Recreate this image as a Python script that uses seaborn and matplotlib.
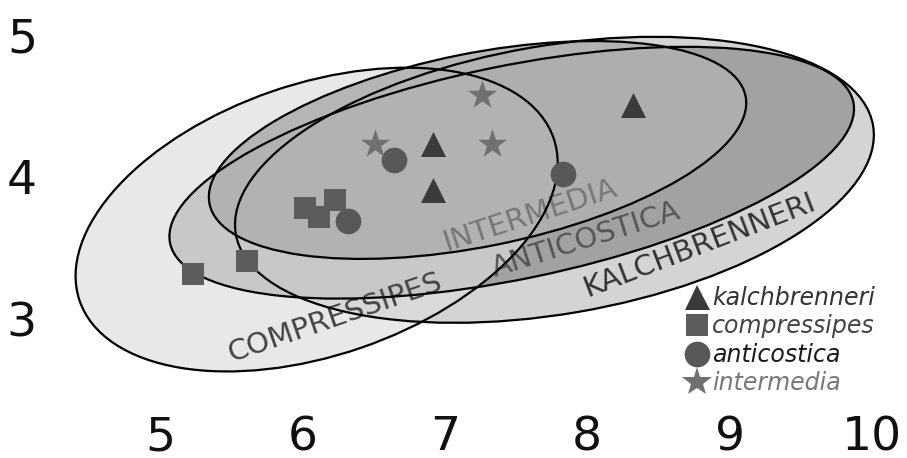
import numpy as np
import pandas as pd
import matplotlib
matplotlib.use('Agg')
import matplotlib.pyplot as plt
from matplotlib.patches import Ellipse
from matplotlib.lines import Line2D
import seaborn as sns

# 1. Values
species = ['kalchbrenneri', 'compressipes', 'anticostica', 'intermedia']

kal_x = [6.92, 6.92, 8.32]
kal_y = [4.23, 3.91, 4.51]
com_x = [5.23, 5.61, 6.02, 6.12, 6.23]
com_y = [3.32, 3.41, 3.78, 3.72, 3.84]
ant_x = [6.64, 6.32, 7.83]
ant_y = [4.12, 3.69, 4.02]
int_x = [6.51, 7.33, 7.26]
int_y = [4.23, 4.23, 4.58]

# one ellipse per species: centre, width, height, angle (same order as species)
ell_cx = [7.77, 6.10, 7.47, 7.23]
ell_cy = [3.98, 3.70, 4.03, 4.19]
ell_w = [4.54, 3.52, 4.90, 3.84]
ell_h = [1.89, 1.91, 1.50, 1.36]
ell_ang = [9.7, 19.0, 11.7, 11.4]

x_ticks = [5, 6, 7, 8, 9, 10]
y_ticks = [3, 4, 5]

df = pd.DataFrame({
    'x': kal_x + com_x + ant_x + int_x,
    'y': kal_y + com_y + ant_y + int_y,
    'species': ['kalchbrenneri'] * len(kal_x) + ['compressipes'] * len(com_x)
               + ['anticostica'] * len(ant_x) + ['intermedia'] * len(int_x),
})

# 2. Styles
markers = {'kalchbrenneri': '^', 'compressipes': 's', 'anticostica': 'o', 'intermedia': '*'}
msize = {'kalchbrenneri': 18, 'compressipes': 16, 'anticostica': 18.5, 'intermedia': 22}
mcolor = {'kalchbrenneri': '#3a3a3a', 'compressipes': '#5c5c5c',
          'anticostica': '#585858', 'intermedia': '#707070'}
# fill colour, alpha, z-order of each ellipse
fills = {'kalchbrenneri': ('#d4d4d4', 1.0, 1), 'anticostica': ('#a2a2a2', 1.0, 2),
         'compressipes': ('#dcdcdc', 0.66, 3), 'intermedia': ('#b0b0b0', 0.9, 4)}
tcolor = {'kalchbrenneri': '#333333', 'compressipes': '#444444',
          'anticostica': '#555555', 'intermedia': '#777777'}
lcolor = ['#333333', '#444444', '#1a1a1a', '#777777']
# label placement (x, y, rotation)
label_pos = {'kalchbrenneri': (8.79, 3.52, 21), 'compressipes': (6.23, 3.01, 19),
             'anticostica': (7.99, 3.56, 17.5), 'intermedia': (7.60, 3.73, 18)}

sns.set_style('white')
plt.rcParams['font.family'] = ['DejaVu Sans']

W, H = 907, 458
fig = plt.figure(figsize=(W / 100, H / 100), dpi=100)
ax = fig.add_axes([55 / W, (H - 400) / H, (W - 55) / W, 400 / H])
ax.set_xlim(4.2626, 10.246)
ax.set_ylim(2.4296, 5.246)

# 3. Ellipses
for i, sp in enumerate(species):
    fc, a, z = fills[sp]
    ax.add_patch(Ellipse((ell_cx[i], ell_cy[i]), ell_w[i], ell_h[i], angle=ell_ang[i],
                         facecolor=fc, alpha=a, edgecolor='none', zorder=z))
    ax.add_patch(Ellipse((ell_cx[i], ell_cy[i]), ell_w[i], ell_h[i], angle=ell_ang[i],
                         fill=False, edgecolor='black', lw=1.6, zorder=6))
    lx, ly, rot = label_pos[sp]
    ax.text(lx, ly, sp.upper(), rotation=rot, rotation_mode='anchor', ha='center',
            va='center', fontsize=21, color=tcolor[sp], zorder=5)

# 4. Points
for sp in species:
    sub = df[df['species'] == sp]
    sns.scatterplot(data=sub, x='x', y='y', marker=markers[sp], s=msize[sp] ** 2,
                    color=mcolor[sp], linewidth=0, ax=ax, zorder=7, legend=False)

handles = [Line2D([], [], ls='none', marker=markers[sp], markersize=msize[sp],
                  color=mcolor[sp], markeredgewidth=0) for sp in species]
ax.legend(handles, species, loc='upper left', bbox_to_anchor=(685 / W, 1 - 286 / H),
          bbox_transform=fig.transFigure, frameon=False, borderpad=0, borderaxespad=0,
          handlelength=1.0, handletextpad=0.15, labelspacing=0.19,
          prop={'style': 'italic', 'size': 17}, labelcolor=lcolor)

ax.set_xticks(x_ticks)
ax.set_xticklabels([str(t) for t in x_ticks])
ax.set_yticks(y_ticks)
ax.set_yticklabels([str(t) for t in y_ticks])
ax.tick_params(axis='both', length=0, labelsize=34, labelcolor='#111111')
ax.tick_params(axis='x', pad=11)
ax.tick_params(axis='y', pad=13)
ax.set_xlabel('')
ax.set_ylabel('')
sns.despine(ax=ax, left=True, bottom=True)

plt.savefig('out.png', dpi=100)
plt.close()
